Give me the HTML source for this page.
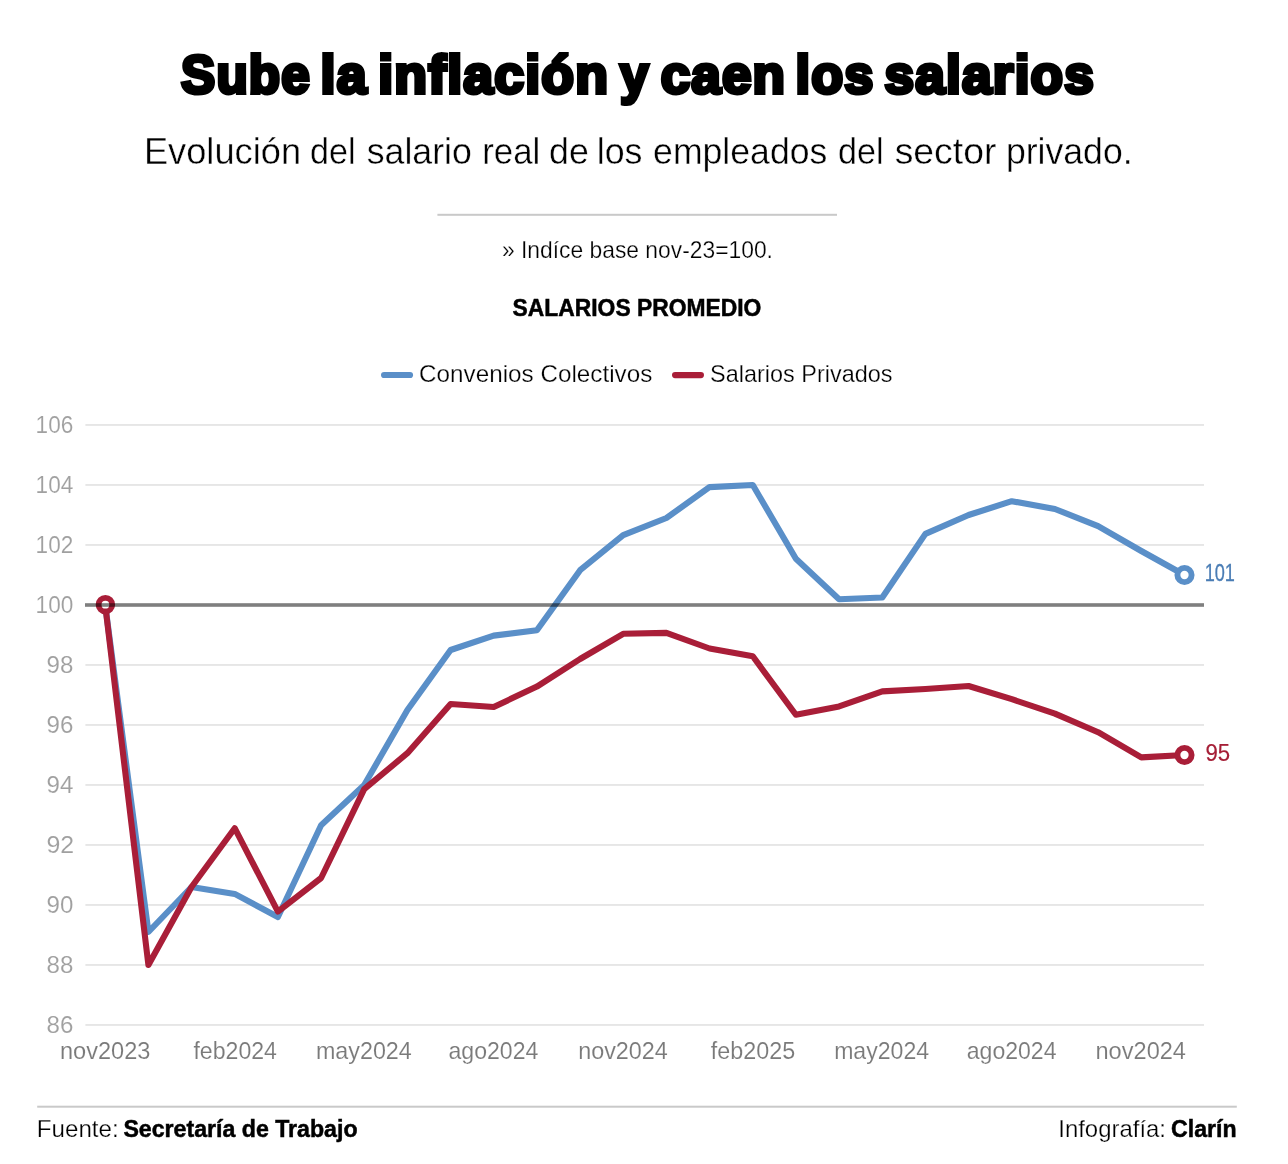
<!DOCTYPE html>
<html lang="es">
<head>
<meta charset="utf-8">
<title>Sube la inflación y caen los salarios</title>
<style>
html,body{margin:0;padding:0;background:#fff;}
body{width:1288px;height:1164px;overflow:hidden;font-family:"Liberation Sans", sans-serif;}
svg{display:block;}
text{font-family:"Liberation Sans", sans-serif;}
.title{font-family:"Liberation Sans",sans-serif;font-weight:bold;fill:#000;stroke:#000;stroke-width:4.0px;stroke-linejoin:miter;stroke-miterlimit:3;letter-spacing:1.2px;}
.thin{stroke:#fff;stroke-width:0.25px;}
.thin3{stroke:#fff;stroke-width:0.12px;}
.thin2{stroke:#fff;stroke-width:0.4px;}
</style>
</head>
<body>
<svg width="1288" height="1164" viewBox="0 0 1288 1164">
<rect width="1288" height="1164" fill="#fff"/>
<rect x="437.4" y="213.8" width="399.6" height="2" fill="#c9c9c9"/>
<line x1="384.1" y1="375" x2="410" y2="375" stroke="#5a8fc8" stroke-width="6.2" stroke-linecap="round"/>
<line x1="675.1" y1="375.1" x2="700.9" y2="375.1" stroke="#a91e38" stroke-width="6.2" stroke-linecap="round"/>

<rect x="85.4" y="1024.0" width="1118.6" height="1.9" fill="#e6e6e6"/>
<rect x="85.4" y="964.0" width="1118.6" height="1.9" fill="#e6e6e6"/>
<rect x="85.4" y="904.0" width="1118.6" height="1.9" fill="#e6e6e6"/>
<rect x="85.4" y="844.0" width="1118.6" height="1.9" fill="#e6e6e6"/>
<rect x="85.4" y="784.0" width="1118.6" height="1.9" fill="#e6e6e6"/>
<rect x="85.4" y="724.0" width="1118.6" height="1.9" fill="#e6e6e6"/>
<rect x="85.4" y="664.0" width="1118.6" height="1.9" fill="#e6e6e6"/>
<rect x="85.4" y="544.0" width="1118.6" height="1.9" fill="#e6e6e6"/>
<rect x="85.4" y="484.0" width="1118.6" height="1.9" fill="#e6e6e6"/>
<rect x="85.4" y="424.0" width="1118.6" height="1.9" fill="#e6e6e6"/>
<polyline points="105.2,605.0 148.4,932.0 191.5,887.0 234.7,893.9 277.9,917.0 321.1,825.2 364.2,785.0 407.4,710.0 450.6,650.0 493.7,635.6 536.9,630.2 580.1,570.2 623.2,535.1 666.4,518.0 709.6,487.1 752.8,485.0 795.9,558.8 839.1,599.3 882.3,597.5 925.4,533.9 968.6,515.0 1011.8,501.2 1054.9,509.0 1098.1,526.1 1141.3,551.0 1184.5,575.0" fill="none" stroke="#5a8fc8" stroke-width="6.1" stroke-linejoin="round" stroke-linecap="round"/>
<polyline points="105.2,605.0 148.4,965.0 191.5,887.0 234.7,828.2 277.9,911.6 321.1,878.0 364.2,789.2 407.4,753.2 450.6,704.0 493.7,707.0 536.9,686.6 580.1,659.0 623.2,633.8 666.4,632.9 709.6,648.5 752.8,656.3 795.9,714.8 839.1,706.4 882.3,691.4 925.4,689.0 968.6,686.0 1011.8,699.2 1054.9,713.6 1098.1,732.2 1141.3,757.4 1184.5,755.0" fill="none" stroke="#a91e38" stroke-width="6.1" stroke-linejoin="round" stroke-linecap="round"/>
<circle cx="1184.5" cy="575.0" r="7.1" fill="#fff" stroke="#5a8fc8" stroke-width="5.9"/>
<circle cx="1184.5" cy="755.0" r="7.1" fill="#fff" stroke="#a91e38" stroke-width="5.9"/>
<circle cx="105.4" cy="604.7" r="6.8" fill="#fff" stroke="#a91e38" stroke-width="5.8"/>
<rect x="85" y="603.2" width="1119" height="3.6" fill="#000" fill-opacity="0.5"/>
<rect x="37.2" y="1105.7" width="1199.6" height="2" fill="#c9c9c9"/>
<text class="title" y="92.8" font-size="54"><tspan x="181.10" textLength="129.80" lengthAdjust="spacingAndGlyphs">Sube</tspan> <tspan x="320.60" textLength="47.10" lengthAdjust="spacingAndGlyphs">la</tspan> <tspan x="378.15" textLength="231.00" lengthAdjust="spacingAndGlyphs">inflación</tspan> <tspan x="619.95" textLength="29.60" lengthAdjust="spacingAndGlyphs">y</tspan> <tspan x="660.65" textLength="125.50" lengthAdjust="spacingAndGlyphs">caen</tspan> <tspan x="795.60" textLength="79.00" lengthAdjust="spacingAndGlyphs">los</tspan> <tspan x="884.55" textLength="210.50" lengthAdjust="spacingAndGlyphs">salarios</tspan></text>
<text class="thin2" fill="#000" y="163.7" font-size="37"><tspan x="143.90" textLength="157.20" lengthAdjust="spacingAndGlyphs">Evolución</tspan> <tspan x="310.10" textLength="45.50" lengthAdjust="spacingAndGlyphs">del</tspan> <tspan x="366.70" textLength="105.15" lengthAdjust="spacingAndGlyphs">salario</tspan> <tspan x="482.25" textLength="58.10" lengthAdjust="spacingAndGlyphs">real</tspan> <tspan x="549.10" textLength="39.70" lengthAdjust="spacingAndGlyphs">de</tspan> <tspan x="596.70" textLength="45.80" lengthAdjust="spacingAndGlyphs">los</tspan> <tspan x="653.10" textLength="174.20" lengthAdjust="spacingAndGlyphs">empleados</tspan> <tspan x="838.10" textLength="45.50" lengthAdjust="spacingAndGlyphs">del</tspan> <tspan x="894.70" textLength="101.65" lengthAdjust="spacingAndGlyphs">sector</tspan> <tspan x="1005.90" textLength="126.75" lengthAdjust="spacingAndGlyphs">privado.</tspan></text>
<text y="1137" font-size="24" fill="#000"><tspan class="thin" x="36.85" textLength="81.75" lengthAdjust="spacingAndGlyphs">Fuente:</tspan> <tspan font-weight="bold" stroke="#000" stroke-width="0.5" x="123.40" textLength="234.15" lengthAdjust="spacingAndGlyphs">Secretaría de Trabajo</tspan></text>
<text y="1137" font-size="24" fill="#000"><tspan class="thin" x="1058.25" textLength="107.75" lengthAdjust="spacingAndGlyphs">Infografía:</tspan> <tspan font-weight="bold" stroke="#000" stroke-width="0.5" x="1171.05" textLength="65.50" lengthAdjust="spacingAndGlyphs">Clarín</tspan></text>
<text class="thin" fill="#000" x="501.95" y="257.7" font-size="23.6" textLength="271.00" lengthAdjust="spacingAndGlyphs">» Indíce base nov-23=100.</text>
<text fill="#000" font-weight="bold" stroke="#000" stroke-width="0.5" x="512.60" y="316.4" font-size="23.3" textLength="248.75" lengthAdjust="spacingAndGlyphs">SALARIOS PROMEDIO</text>
<text class="thin" fill="#000" x="419.10" y="381.8" font-size="24.3" textLength="233.20" lengthAdjust="spacingAndGlyphs">Convenios Colectivos</text>
<text class="thin" fill="#000" x="710.10" y="381.8" font-size="24.3" textLength="182.45" lengthAdjust="spacingAndGlyphs">Salarios Privados</text>
<text class="thin3" fill="#7a7a7a" x="59.95" y="1058.8" font-size="24.2" textLength="90.50" lengthAdjust="spacingAndGlyphs">nov2023</text>
<text class="thin3" fill="#7a7a7a" x="193.45" y="1058.8" font-size="24.2" textLength="83.50" lengthAdjust="spacingAndGlyphs">feb2024</text>
<text class="thin3" fill="#7a7a7a" x="315.91" y="1058.8" font-size="24.2" textLength="95.90" lengthAdjust="spacingAndGlyphs">may2024</text>
<text class="thin3" fill="#7a7a7a" x="448.52" y="1058.8" font-size="24.2" textLength="89.80" lengthAdjust="spacingAndGlyphs">ago2024</text>
<text class="thin3" fill="#7a7a7a" x="578.17" y="1058.8" font-size="24.2" textLength="89.60" lengthAdjust="spacingAndGlyphs">nov2024</text>
<text class="thin3" fill="#7a7a7a" x="710.78" y="1058.8" font-size="24.2" textLength="84.40" lengthAdjust="spacingAndGlyphs">feb2025</text>
<text class="thin3" fill="#7a7a7a" x="834.13" y="1058.8" font-size="24.2" textLength="95.00" lengthAdjust="spacingAndGlyphs">may2024</text>
<text class="thin3" fill="#7a7a7a" x="966.74" y="1058.8" font-size="24.2" textLength="89.80" lengthAdjust="spacingAndGlyphs">ago2024</text>
<text class="thin3" fill="#7a7a7a" x="1095.49" y="1058.8" font-size="24.2" textLength="90.50" lengthAdjust="spacingAndGlyphs">nov2024</text>
<text class="thin3" fill="#a0a0a0" x="46.50" y="1033.3" font-size="24.4" textLength="26.80" lengthAdjust="spacingAndGlyphs">86</text>
<text class="thin3" fill="#a0a0a0" x="46.50" y="973.3" font-size="24.4" textLength="26.80" lengthAdjust="spacingAndGlyphs">88</text>
<text class="thin3" fill="#a0a0a0" x="46.50" y="913.3" font-size="24.4" textLength="26.80" lengthAdjust="spacingAndGlyphs">90</text>
<text class="thin3" fill="#a0a0a0" x="46.50" y="853.3" font-size="24.4" textLength="27.70" lengthAdjust="spacingAndGlyphs">92</text>
<text class="thin3" fill="#a0a0a0" x="46.50" y="793.3" font-size="24.4" textLength="26.80" lengthAdjust="spacingAndGlyphs">94</text>
<text class="thin3" fill="#a0a0a0" x="46.50" y="733.3" font-size="24.4" textLength="26.80" lengthAdjust="spacingAndGlyphs">96</text>
<text class="thin3" fill="#a0a0a0" x="46.50" y="673.3" font-size="24.4" textLength="26.80" lengthAdjust="spacingAndGlyphs">98</text>
<text class="thin3" fill="#a0a0a0" x="35.60" y="613.3" font-size="24.4" textLength="37.70" lengthAdjust="spacingAndGlyphs">100</text>
<text class="thin3" fill="#a0a0a0" x="35.60" y="553.3" font-size="24.4" textLength="37.70" lengthAdjust="spacingAndGlyphs">102</text>
<text class="thin3" fill="#a0a0a0" x="35.60" y="493.3" font-size="24.4" textLength="37.70" lengthAdjust="spacingAndGlyphs">104</text>
<text class="thin3" fill="#a0a0a0" x="35.60" y="433.3" font-size="24.4" textLength="37.70" lengthAdjust="spacingAndGlyphs">106</text>
<text fill="#4a7db5" stroke="#4a7db5" stroke-width="0.3" x="1204.70" y="580.8" font-size="24.4" textLength="30.25" lengthAdjust="spacingAndGlyphs">101</text>
<text fill="#a51e36" stroke="#a51e36" stroke-width="0.2" x="1205.45" y="761" font-size="24.4" textLength="24.65" lengthAdjust="spacingAndGlyphs">95</text>
</svg>
</body>
</html>
